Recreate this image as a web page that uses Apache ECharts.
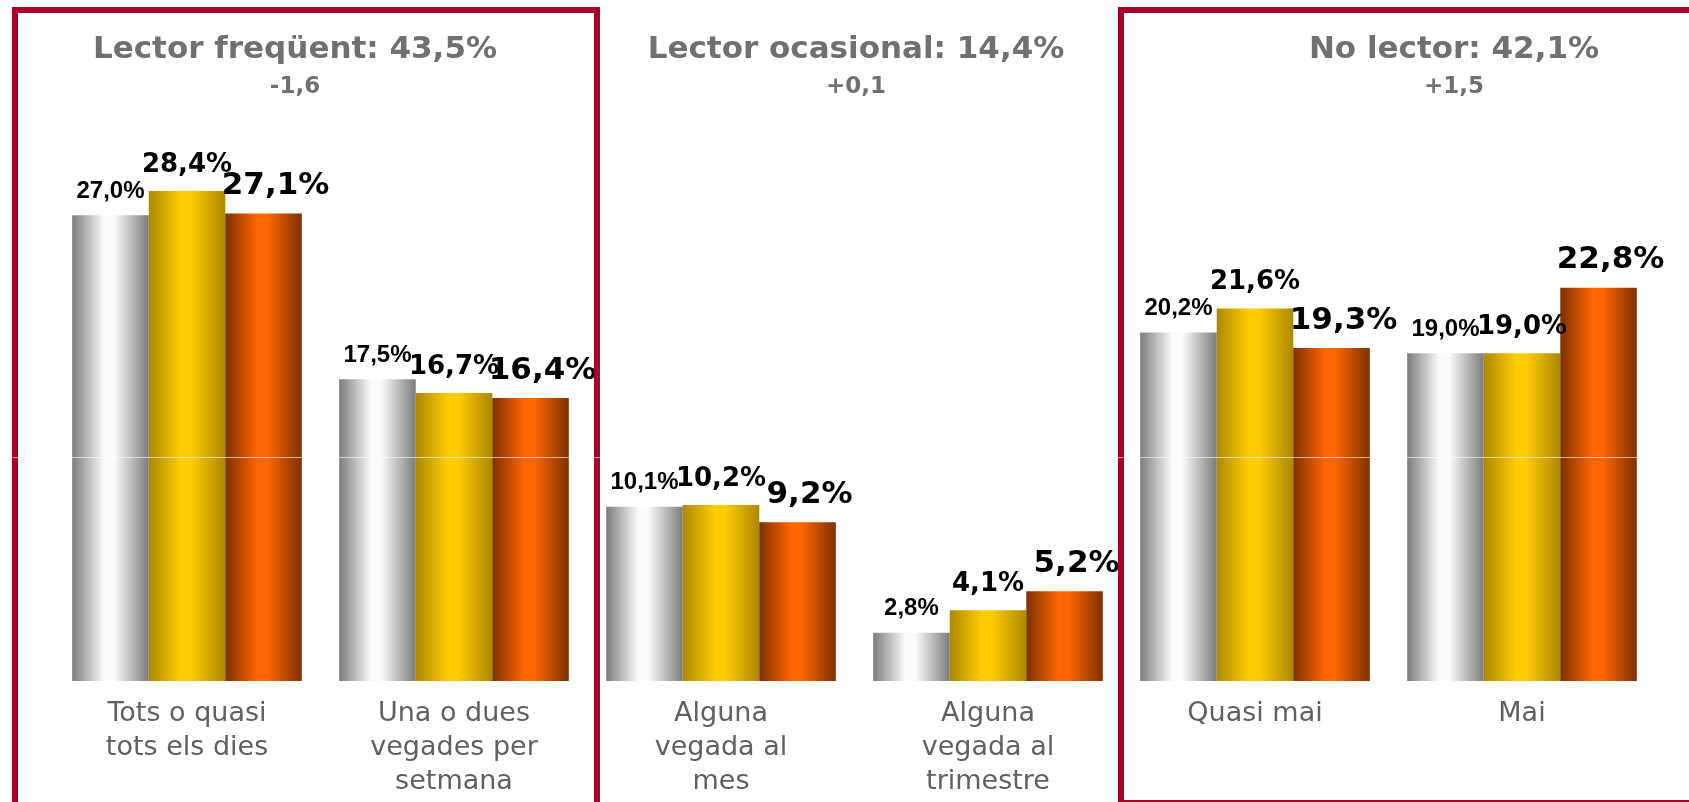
<!DOCTYPE html>
<html>
<head>
<meta charset="utf-8">
<title>Lectors</title>
<script src="https://cdn.jsdelivr.net/npm/echarts@6/dist/echarts.min.js"></script>
<style>
 html, body { margin: 0; padding: 0; background: #fff; }
 #main { width: 1689px; height: 802px; }
</style>
</head>
<body>
<div id="main"></div>
<script>
// dades llegides del gràfic
var categories = ['Tots o quasi\ntots els dies', 'Una o dues\nvegades per\nsetmana', 'Alguna\nvegada al\nmes', 'Alguna\nvegada al\ntrimestre', 'Quasi mai', 'Mai'];
var serieGris = [27.0, 17.5, 10.1, 2.8, 20.2, 19.0];
var serieGroc = [28.4, 16.7, 10.2, 4.1, 21.6, 19.0];
var serieTaronja = [27.1, 16.4, 9.2, 5.2, 19.3, 22.8];
var groupTitles = ['Lector freqüent: 43,5%', 'Lector ocasional: 14,4%', 'No lector: 42,1%'];
var groupChanges = ['-1,6', '+0,1', '+1,5'];
var guideValue = 13;

var titleX = [290, 851, 1449];
var frameColor = '#a80028';

function gradient(edge, mid) {
 return new echarts.graphic.LinearGradient(0, 0, 1, 0, [
  { offset: 0, color: edge },
  { offset: 0.42, color: mid },
  { offset: 0.55, color: mid },
  { offset: 1, color: edge }
 ]);
}

function fmt(p) {
 return p.value.toFixed(1).replace('.', ',') + '%';
}

function barSerie(name, data, colorEdge, colorMid, labelStyle) {
 return {
  name: name,
  type: 'bar',
  data: data,
  barGap: '0%',
  barCategoryGap: '14%',
  itemStyle: { color: gradient(colorEdge, colorMid) },
  label: Object.assign({
   show: true,
   position: 'top',
   color: '#000',
   formatter: fmt
  }, labelStyle)
 };
}

var chart = echarts.init(document.getElementById('main'));

var titles = groupTitles.map(function (t, i) {
 return {
  text: t,
  subtext: groupChanges[i],
  left: titleX[i],
  top: 29,
  textAlign: 'center',
  itemGap: 11,
  textStyle: { fontFamily: 'DejaVu Sans', fontWeight: 'bold', fontSize: 31, color: '#707070' },
  subtextStyle: { fontFamily: 'DejaVu Sans', fontWeight: 'bold', fontSize: 23, color: '#707070' }
 };
});

var option = {
 animation: false,
 backgroundColor: '#fff',
 title: titles,
 grid: { left: 53.5, right: 33.5, top: 77.25, bottom: 121 },
 xAxis: {
  type: 'category',
  data: categories,
  axisLine: { show: false },
  axisTick: { show: false },
  axisLabel: {
   interval: 0,
   margin: 16,
   fontFamily: 'DejaVu Sans',
   fontSize: 27,
   lineHeight: 34,
   color: '#606060'
  }
 },
 yAxis: {
  type: 'value',
  min: 0,
  max: 35,
  show: false,
  splitLine: { show: false }
 },
 series: [
  barSerie('Gris', serieGris, '#7c7c7c', '#fbfbfb',
   { fontFamily: 'Liberation Sans', fontWeight: 'bold', fontSize: 24, distance: 12 }),
  barSerie('Groc', serieGroc, '#ab8800', '#ffcc00',
   { fontFamily: 'DejaVu Sans', fontWeight: 'bold', fontSize: 26, distance: 13 }),
  barSerie('Taronja', serieTaronja, '#7d3100', '#ff6600',
   { fontFamily: 'DejaVu Sans', fontWeight: 'bold', fontSize: 31, distance: 12, offset: [12, 0] })
 ]
};
chart.setOption(option);

// marcs vermells i línia guia clara per sobre de les barres
var guideY = chart.convertToPixel({ yAxisIndex: 0 }, guideValue);
chart.setOption({
 graphic: [
  {
   type: 'rect', z: 100, silent: true,
   shape: { x: 15, y: 10, width: 582, height: 900 },
   style: { fill: null, stroke: frameColor, lineWidth: 6 }
  },
  {
   type: 'rect', z: 100, silent: true,
   shape: { x: 1121, y: 10, width: 700, height: 793 },
   style: { fill: null, stroke: frameColor, lineWidth: 6 }
  },
  {
   type: 'line', z: 101, silent: true,
   shape: { x1: 0, y1: Math.round(guideY) + 0.5, x2: 1689, y2: Math.round(guideY) + 0.5 },
   style: { stroke: 'rgba(255,255,255,0.6)', lineWidth: 1 }
  }
 ]
});
</script>
</body>
</html>
